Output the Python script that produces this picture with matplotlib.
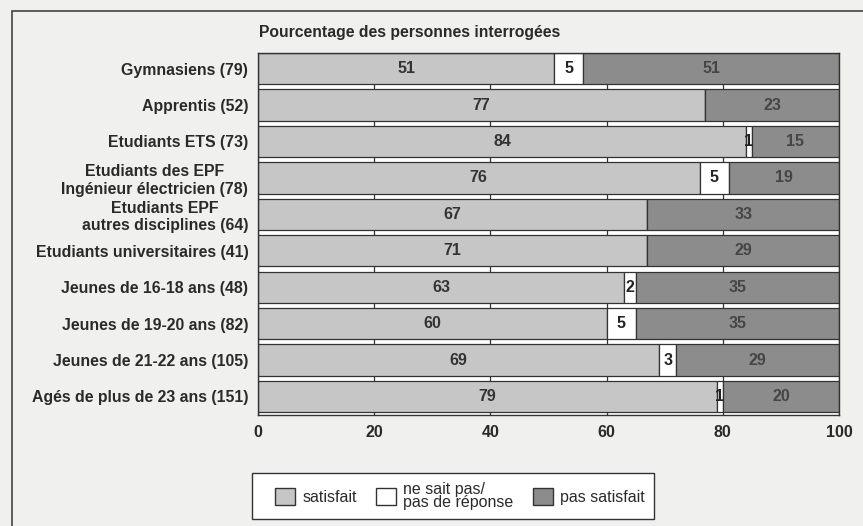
import numpy as np
import matplotlib.pyplot as plt
from matplotlib.patches import Rectangle, Patch

plt.rcParams['font.family'] = ['Liberation Sans', 'DejaVu Sans']

groups = ['Gymnasiens (79)', 'Apprentis (52)', 'Etudiants ETS (73)',
          'Etudiants des EPF\nIngénieur électricien (78)',
          'Etudiants EPF\nautres disciplines (64)',
          'Etudiants universitaires (41)', 'Jeunes de 16-18 ans (48)',
          'Jeunes de 19-20 ans (82)', 'Jeunes de 21-22 ans (105)',
          'Agés de plus de 23 ans (151)']
# bar lengths as drawn in the picture
satisfait = [51, 77, 84, 76, 67, 67, 63, 60, 69, 79]
nsp = [5, 0, 1, 5, 0, 0, 2, 5, 3, 1]
pas_sat = [44, 23, 15, 19, 33, 33, 35, 35, 28, 20]
# numbers printed on the bars
lbl_sat = ['51', '77', '84', '76', '67', '71', '63', '60', '69', '79']
lbl_nsp = ['5', '', '1', '5', '', '', '2', '5', '3', '1']
lbl_pas = ['51', '23', '15', '19', '33', '29', '35', '35', '29', '20']

c_sat = '#c6c6c6'
c_pas = '#8c8c8c'
bg = '#f0f0ee'
ink = '#2a2a2a'

fig = plt.figure(figsize=(8.63, 5.26), dpi=100, facecolor=bg)
# outer frame of the scanned figure
fig.patches.append(Rectangle((12 / 863, -0.05), 1.0, 1 - 11 / 526 + 0.05,
                             transform=fig.transFigure, fill=False,
                             edgecolor='#444444', linewidth=1.2))

ax = fig.add_axes([258 / 863, 1 - 415 / 526, 581 / 863, 362 / 526])
ax.set_facecolor('white')
y = np.arange(len(groups))
h = 0.86
left_nsp = np.array(satisfait)
left_pas = left_nsp + np.array(nsp)
ax.barh(y, satisfait, height=h, color=c_sat, edgecolor='#333333', linewidth=0.9, zorder=2)
ax.barh(y, nsp, left=left_nsp, height=h, color='white', edgecolor='#333333', linewidth=0.9, zorder=2)
ax.barh(y, pas_sat, left=left_pas, height=h, color=c_pas, edgecolor='#333333', linewidth=0.9, zorder=2)

for i in range(len(groups)):
    ax.text(satisfait[i] / 2, y[i], lbl_sat[i], ha='center', va='center',
            fontsize=11.5, fontweight='bold', color='#333333', zorder=3)
    if lbl_nsp[i]:
        ax.text(left_nsp[i] + nsp[i] / 2, y[i], lbl_nsp[i], ha='center', va='center',
                fontsize=11.5, fontweight='bold', color='#222222', zorder=3)
    ax.text(left_pas[i] + pas_sat[i] / 2, y[i], lbl_pas[i], ha='center', va='center',
            fontsize=11.5, fontweight='bold', color='#454545', zorder=3)

ax.set_xlim(0, 100)
ax.set_ylim(9 + h / 2 + 0.08, -h / 2)
ax.set_xticks([0, 20, 40, 60, 80, 100])
ax.set_xticklabels(['0', '20', '40', '60', '80', '100'], fontsize=11.5,
                   fontweight='bold', color=ink)
ax.tick_params(axis='x', length=0, pad=7)
ax.set_yticks(y)
ax.set_yticklabels(groups, fontsize=11.4, fontweight='bold', color=ink,
                   multialignment='center')
ax.tick_params(axis='y', length=0, pad=7)
ax.grid(axis='x', color='#333333', linewidth=0.9, zorder=1)
for s in ax.spines.values():
    s.set_color('#333333')
    s.set_linewidth(1.0)

fig.text(259 / 863, 1 - 33 / 526, 'Pourcentage des personnes interrogées',
         fontsize=11.3, fontweight='bold', color=ink, va='center')

# legend box
fig.patches.append(Rectangle((252 / 863, 1 - 519 / 526), 402 / 863, 46 / 526,
                             transform=fig.transFigure, facecolor='white',
                             edgecolor='#333333', linewidth=1.0))
handles = [Patch(facecolor=c_sat, edgecolor='#333333'),
           Patch(facecolor='white', edgecolor='#333333'),
           Patch(facecolor=c_pas, edgecolor='#333333')]
leg = fig.legend(handles, ['satisfait', 'ne sait pas/\npas de réponse', 'pas satisfait'],
                 ncol=3, loc='center', bbox_to_anchor=(460 / 863, 1 - 496 / 526),
                 frameon=False, fontsize=11.5, handlelength=1.25,
                 handleheight=1.25, handletextpad=0.45, columnspacing=1.2,
                 borderpad=0.0)
for t in leg.get_texts():
    t.set_linespacing(0.9)
    t.set_color(ink)

fig.savefig('out.png', dpi=100, facecolor=bg)
